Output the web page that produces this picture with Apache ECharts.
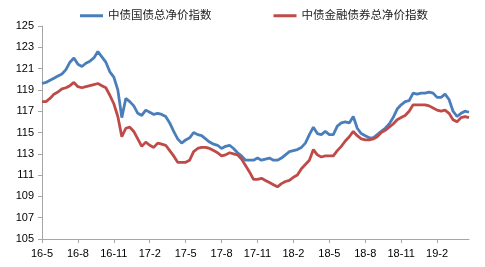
<!DOCTYPE html>
<html><head><meta charset="utf-8">
<script src="https://cdn.jsdelivr.net/npm/echarts@6/dist/echarts.min.js"></script>
<style>html,body{margin:0;padding:0;background:#fff}#c{width:485px;height:267px}</style>
</head><body><div id="c"></div>
<script>
// Sample dates: 1st, 11th, 21st of each month, 2016-05 .. 2019-04
var months = ['16-5','16-6','16-7','16-8','16-9','16-10','16-11','16-12','17-1','17-2','17-3','17-4','17-5','17-6','17-7','17-8','17-9','17-10','17-11','17-12','18-1','18-2','18-3','18-4','18-5','18-6','18-7','18-8','18-9','18-10','18-11','18-12','19-1','19-2','19-3','19-4'];
var days = [1, 11, 21];
var tickLabels = ['16-5','16-8','16-11','17-2','17-5','17-8','17-11','18-2','18-5','18-8','18-11','19-2'];
var seriesNames = ['中债国债总净价指数','中债金融债券总净价指数'];
var govIndex = [119.6,119.7,119.9,120.1,120.3,120.5,120.9,121.6,122.0,121.4,121.2,121.5,121.7,122.0,122.6,122.1,121.6,120.7,120.2,119.0,116.4,118.2,117.9,117.5,116.8,116.6,117.1,116.9,116.7,116.8,116.7,116.5,115.9,115.1,114.4,114.0,114.3,114.5,115.0,114.8,114.7,114.4,114.1,113.9,113.8,113.5,113.7,113.8,113.5,113.1,112.8,112.4,112.4,112.4,112.6,112.4,112.5,112.6,112.4,112.4,112.6,112.9,113.2,113.3,113.4,113.6,114.0,114.8,115.5,114.9,114.8,115.1,114.8,114.8,115.6,115.9,116.0,115.9,116.5,115.4,114.9,114.7,114.5,114.5,114.8,115.1,115.4,115.8,116.4,117.2,117.6,117.9,118.0,118.7,118.6,118.7,118.7,118.8,118.7,118.3,118.3,118.6,118.1,117.0,116.5,116.8,117.0,116.9];
var finIndex = [117.9,117.9,118.2,118.6,118.8,119.1,119.2,119.4,119.7,119.3,119.2,119.3,119.4,119.5,119.6,119.4,119.2,118.5,117.7,116.5,114.6,115.4,115.5,115.1,114.4,113.7,114.1,113.8,113.6,114.0,113.9,113.8,113.3,112.8,112.2,112.2,112.2,112.4,113.2,113.5,113.6,113.6,113.5,113.3,113.1,112.8,112.9,113.1,113.0,112.9,112.5,111.9,111.3,110.6,110.6,110.7,110.5,110.3,110.1,109.9,110.2,110.4,110.5,110.8,111.0,111.6,112.0,112.4,113.4,112.9,112.7,112.8,112.8,112.8,113.3,113.7,114.2,114.6,115.1,114.7,114.4,114.3,114.3,114.4,114.6,115.0,115.2,115.5,115.8,116.2,116.4,116.6,117.0,117.6,117.6,117.6,117.6,117.5,117.3,117.1,117.0,117.1,116.8,116.2,116.0,116.4,116.5,116.4];

var categories = [];
months.forEach(function(m){ days.forEach(function(d){ categories.push(m + '-' + d); }); });
function monthOf(c){ var p = c.split('-'); return p[0] + '-' + p[1]; }
function isTick(idx, c){ return c.split('-')[2] === '1' && tickLabels.indexOf(monthOf(c)) >= 0; }

var font = '"Liberation Sans","Noto Sans CJK SC",sans-serif';
var chart = echarts.init(document.getElementById('c'));
chart.setOption({
  animation: false,
  textStyle: {fontFamily: font},
  color: ['#4A7EBB', '#BE4B48'],
  legend: {
    top: 5, left: 75, itemGap: 62, itemWidth: 23, itemHeight: 3,
    icon: 'rect',
    textStyle: {fontSize: 11.5, color: '#222', fontFamily: font},
    data: seriesNames
  },
  grid: {left: 42, right: 16, top: 26, bottom: 28, containLabel: false},
  xAxis: {
    type: 'category', boundaryGap: false, data: categories,
    axisLine: {lineStyle: {color: '#A6A6A6', width: 1}},
    axisTick: {interval: isTick, length: 4, lineStyle: {color: '#A6A6A6'}},
    axisLabel: {interval: isTick, formatter: function(v){ return monthOf(v); }, fontSize: 11, color: '#000', margin: 9, fontFamily: font},
    splitLine: {show: false}
  },
  yAxis: {
    type: 'value', min: 105, max: 125, interval: 2,
    axisLine: {show: true, lineStyle: {color: '#A6A6A6', width: 1}},
    axisTick: {show: true, length: 4, lineStyle: {color: '#A6A6A6'}},
    axisLabel: {fontSize: 11, color: '#000', margin: 8, fontFamily: font},
    splitLine: {show: false}
  },
  series: [
    {name: seriesNames[0], type: 'line', data: govIndex, showSymbol: false, symbol: 'none', lineStyle: {width: 2.8, color: '#4A7EBB'}, itemStyle: {color: '#4A7EBB'}},
    {name: seriesNames[1], type: 'line', data: finIndex, showSymbol: false, symbol: 'none', lineStyle: {width: 2.8, color: '#BE4B48'}, itemStyle: {color: '#BE4B48'}}
  ]
});
</script></body></html>
